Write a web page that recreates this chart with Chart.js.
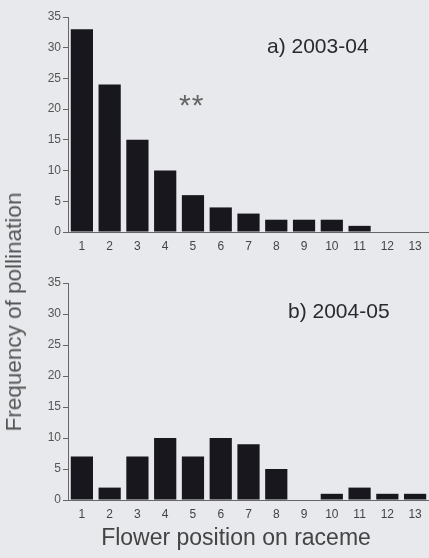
<!DOCTYPE html>
<html>
<head>
<meta charset="utf-8">
<script src="https://cdn.jsdelivr.net/npm/chart.js@4"></script>
<style>
  html, body { margin: 0; padding: 0; }
  body { width: 429px; height: 558px; background: #e8e9ec; position: relative; overflow: hidden;
         font-family: "Liberation Sans", Arial, sans-serif; }
  .box { position: absolute; left: 0; width: 429px; }
  .txt { position: absolute; white-space: nowrap; color: #2a2a2e; }
</style>
</head>
<body>
<div class="box" style="top:0;height:262px"><canvas id="chartA"></canvas></div>
<div class="box" style="top:260px;height:270px"><canvas id="chartB"></canvas></div>

<div class="txt" style="left:267px;top:34px;font-size:21px">a) 2003-04</div>
<div class="txt" style="left:179px;top:88px;font-size:30px;letter-spacing:1px;color:#666">**</div>
<div class="txt" style="left:288px;top:299px;font-size:21px">b) 2004-05</div>
<div class="txt" style="left:14px;top:312px;font-size:22.5px;color:#555;transform:translate(-50%,-50%) rotate(-90deg)">Frequency of pollination</div>
<div class="txt" style="left:236px;top:537px;font-size:23px;color:#444;transform:translate(-50%,-50%)">Flower position on raceme</div>

<script>
// Flower position on the raceme
const positions = ['1', '2', '3', '4', '5', '6', '7', '8', '9', '10', '11', '12', '13'];
// a) 2003-04 frequency of pollination
const season0304 = [33, 24, 15, 10, 6, 4, 3, 2, 2, 2, 1, 0, 0];
// b) 2004-05 frequency of pollination
const season0405 = [7, 2, 7, 10, 7, 10, 9, 5, 0, 1, 2, 1, 1];
// y axis ticks
const yMax = 35;
const yStep = 5;

function makeChart(id, values, padTop, xHeight) {
    const ctx = document.getElementById(id).getContext('2d');
    return new Chart(ctx, {
        type: 'bar',
        data: {
            labels: positions,
            datasets: [{
                data: values,
                backgroundColor: '#17171d',
                barPercentage: 0.8,
                categoryPercentage: 1.0
            }]
        },
        options: {
            responsive: true,
            maintainAspectRatio: false,
            animation: false,
            layout: { padding: { top: padTop, left: 0, right: 0, bottom: 0 } },
            plugins: {
                legend: { display: false },
                tooltip: { enabled: false }
            },
            scales: {
                x: {
                    grid: { display: false, drawTicks: false },
                    border: { display: true, color: '#666', width: 1 },
                    ticks: {
                        color: '#444',
                        padding: 7,
                        font: { family: 'Liberation Sans', size: 12 }
                    },
                    afterFit: function(scale) { scale.height = xHeight; }
                },
                y: {
                    min: 0,
                    max: yMax,
                    grid: { drawOnChartArea: false, tickLength: 5, color: '#666' },
                    border: { display: true, color: '#666', width: 1 },
                    ticks: {
                        stepSize: yStep,
                        color: '#555',
                        padding: 2,
                        font: { family: 'Liberation Sans', size: 12 }
                    },
                    afterFit: function(scale) { scale.width = 68; }
                }
            }
        }
    });
}

makeChart('chartA', season0304, 17, 30);
makeChart('chartB', season0405, 23, 30);
</script>
</body>
</html>
